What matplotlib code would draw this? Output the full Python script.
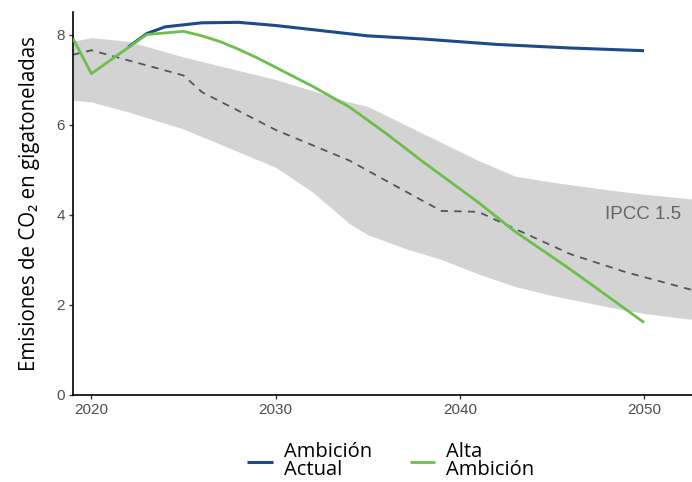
import matplotlib.pyplot as plt

# IPCC 1.5 range (upper / lower bound) and median pathway
band_years = [2019, 2020, 2022, 2025, 2030, 2032, 2034, 2035, 2037, 2039, 2041, 2043, 2045, 2048, 2050, 2053]
band_upper = [7.85, 7.93, 7.85, 7.5, 7.0, 6.75, 6.5, 6.4, 6.0, 5.6, 5.2, 4.85, 4.72, 4.55, 4.45, 4.33]
band_lower = [6.54, 6.5, 6.28, 5.9, 5.05, 4.5, 3.8, 3.55, 3.25, 3.0, 2.68, 2.4, 2.2, 1.95, 1.8, 1.65]

ipcc_years = [2019, 2020, 2025, 2026, 2030, 2034, 2038, 2039, 2041, 2043, 2046, 2049, 2053]
ipcc_median = [7.55, 7.65, 7.09, 6.72, 5.88, 5.2, 4.3, 4.08, 4.06, 3.68, 3.12, 2.72, 2.28]

# scenarios
actual_years = [2022, 2023, 2024, 2026, 2028, 2030, 2035, 2038, 2042, 2046, 2050]
actual_vals = [7.72, 8.02, 8.17, 8.26, 8.27, 8.2, 7.97, 7.9, 7.78, 7.7, 7.64]

alta_years = [2019, 2020, 2023, 2025, 2026, 2027, 2028, 2029, 2030, 2032, 2034, 2036, 2038, 2041, 2043, 2046, 2050]
alta_vals = [7.91, 7.13, 8.0, 8.07, 7.97, 7.84, 7.67, 7.48, 7.27, 6.85, 6.39, 5.8, 5.17, 4.27, 3.62, 2.78, 1.6]

x_ticks = [2020, 2030, 2040, 2050]
y_ticks = [0, 2, 4, 6, 8]

sans = ['Open Sans', 'Noto Sans', 'DejaVu Sans']

fig = plt.figure(figsize=(6.92, 4.82), dpi=100)
ax = fig.add_axes([0.1055, 0.1815, 0.8945, 0.7936])

ax.fill_between(band_years, band_lower, band_upper, color='#d3d3d3', lw=0, zorder=1)
ax.plot(ipcc_years, ipcc_median, color='#555555', lw=1.3, ls=(0, (4, 3.5)), zorder=2)
ax.plot(actual_years, actual_vals, color='#1d4a8a', lw=2.2, zorder=3,
        solid_capstyle='butt', label='Ambición\nActual')
ax.plot(alta_years, alta_vals, color='#6cbf4a', lw=2.0, zorder=4,
        solid_capstyle='butt', label='Alta\nAmbición')

ax.text(2052.0, 4.0, 'IPCC 1.5', ha='right', va='center', fontsize=13.5,
        color='#666666', family='Liberation Sans')

ax.set_xlim(2019, 2052.6)
ax.set_ylim(0, 8.5)
ax.set_xticks(x_ticks)
ax.set_yticks(y_ticks)
for s in ['top', 'right']:
    ax.spines[s].set_visible(False)
for s in ['left', 'bottom']:
    ax.spines[s].set_linewidth(1.2)
    ax.spines[s].set_color('black')
ax.tick_params(length=3, width=1, color='#333333', labelsize=11,
               labelcolor='#4d4d4d', pad=3)
for lab in ax.get_xticklabels() + ax.get_yticklabels():
    lab.set_family('Liberation Sans')

ax.set_ylabel('Emisiones de CO₂ en gigatoneladas', fontsize=14.8,
              family=sans, labelpad=12)

fig.legend(loc='center', bbox_to_anchor=(0.565, 0.043), ncol=2, frameon=False,
           handlelength=1.25, handletextpad=0.55, columnspacing=1.9,
           labelspacing=0.2, prop={'family': sans, 'size': 14.5})
for t in fig.legends[0].get_texts():
    t.set_linespacing(0.85)

fig.savefig('out.png', dpi=100)
